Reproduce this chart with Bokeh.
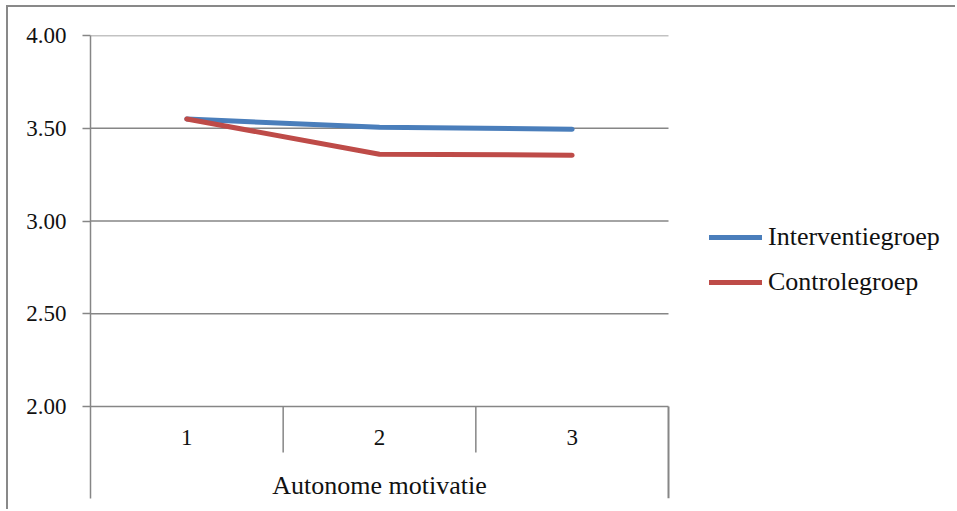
from bokeh.plotting import figure
from bokeh.models import (FixedTicker, NumeralTickFormatter, Legend, LegendItem, Range1d)
from bokeh.core.properties import value
from bokeh.embed import file_html
from bokeh.resources import INLINE

# ---- data ----
categories = ["1", "2", "3"]
interventie = [3.55, 3.505, 3.495]
controle = [3.55, 3.36, 3.355]
y_ticks = [2.0, 2.5, 3.0, 3.5, 4.0]
group_label = "Autonome motivatie"
series_names = ["Interventiegroep", "Controlegroep"]

# ---- styling ----
FONT = "Liberation Serif"
GRID = "#868686"
BLUE = "#4A7EBB"
RED = "#BE4B48"
TXT = "#111111"

n = len(categories)
xs = [i + 1 for i in range(n)]
y_min, y_max = min(y_ticks), max(y_ticks)
px_per_unit = 185.5
y_start = y_min - 92 / px_per_unit
x_lo, x_hi = 0.5, n + 0.5
# frame spans the whole width (legend sits inside it, right of the category area)
x_end = x_lo + (949 - 82) / (578 / n)

p = figure(width=949, height=504, output_backend="svg", toolbar_location=None,
           x_range=Range1d(x_lo, x_end),
           y_range=Range1d(y_start, y_max),
           min_border_left=82, min_border_top=28, min_border_bottom=13, min_border_right=0)
p.styles = {"margin-left": "6px", "margin-top": "5px",
            "border-left": "2px solid #898989", "border-top": "2px solid #898989"}
p.outline_line_color = None
p.xaxis.visible = False
p.xgrid.visible = False
p.ygrid.visible = False

yax = p.yaxis[0]
yax.ticker = FixedTicker(ticks=y_ticks)
yax.formatter = NumeralTickFormatter(format="0.00")
yax.axis_line_color = GRID
yax.axis_line_width = 1.5
yax.major_tick_line_color = GRID
yax.major_tick_line_width = 1.5
yax.major_tick_out = 8
yax.major_tick_in = 0
yax.minor_tick_line_color = None
yax.major_label_standoff = 16
yax.major_label_text_font = FONT
yax.major_label_text_font_size = "23px"
yax.major_label_text_color = TXT

# horizontal gridlines over the category area only
p.segment(x0=[x_lo] * len(y_ticks), y0=y_ticks, x1=[x_hi] * len(y_ticks), y1=y_ticks,
          line_color=GRID, line_width=1.5)

# category separators (below baseline) computed from category boundaries
bounds = [i + 0.5 for i in range(n + 1)]
inner = bounds[1:-1]
p.segment(x0=inner, y0=[y_min] * len(inner), x1=inner,
          y1=[y_min - 46 / px_per_unit] * len(inner), line_color=GRID, line_width=1.5)
p.segment(x0=[bounds[-1]], y0=[y_min], x1=[bounds[-1]], y1=[y_start],
          line_color=GRID, line_width=2)

# category labels and group label
p.text(x=xs, y=[y_min - 31 / px_per_unit] * n, text=categories,
       text_font=value(FONT), text_font_size="23px", text_color=TXT,
       text_align="center", text_baseline="middle")
p.text(x=[sum(xs) / n], y=[y_min - 79 / px_per_unit], text=[group_label],
       text_font=value(FONT), text_font_size="26px", text_color=TXT,
       text_align="center", text_baseline="middle")

r1 = p.line(xs, interventie, line_color=BLUE, line_width=5, line_cap="round", line_join="round")
r2 = p.line(xs, controle, line_color=RED, line_width=5, line_cap="round", line_join="round")

legend = Legend(items=[LegendItem(label=series_names[0], renderers=[r1]),
                       LegendItem(label=series_names[1], renderers=[r2])],
                location=(619, 201), glyph_width=53, glyph_height=26, label_height=26,
                spacing=15, padding=0, margin=0, border_line_color=None,
                background_fill_alpha=0, label_standoff=6,
                label_text_font=FONT, label_text_font_size="26px", label_text_color=TXT)
p.add_layout(legend)

open("out.html", "w").write(file_html(p, INLINE))
